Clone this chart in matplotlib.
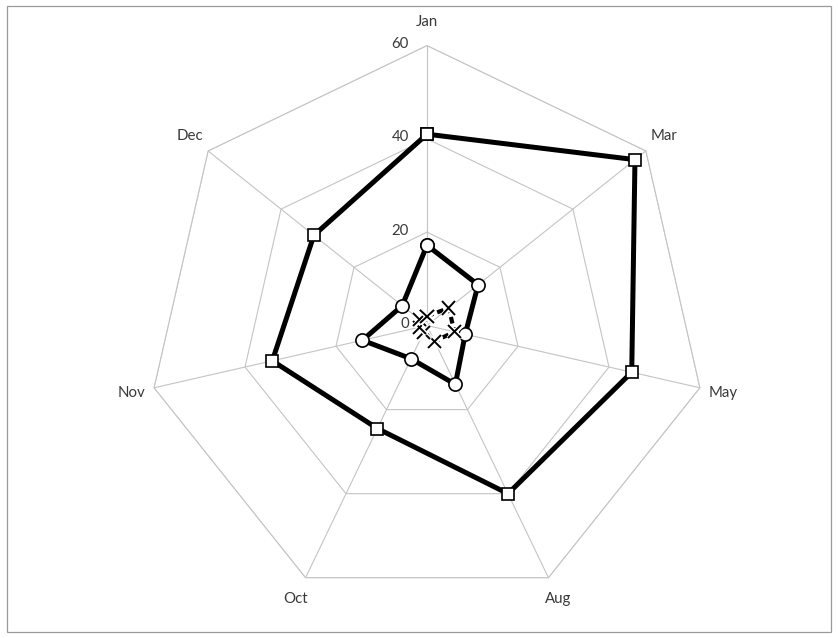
import numpy as np
import matplotlib
matplotlib.use('Agg')
import matplotlib.pyplot as plt
import matplotlib.patheffects as pe
from matplotlib.path import Path
from matplotlib.projections.polar import PolarAxes
from matplotlib.projections import register_projection
from matplotlib.spines import Spine
from matplotlib.transforms import Affine2D
from matplotlib.patches import RegularPolygon, Rectangle

# ---------------- data ----------------
categories = ['Jan', 'Mar', 'May', 'Aug', 'Oct', 'Nov', 'Dec']
series_squares = [41, 57, 45, 40, 24.5, 34, 31]
series_circles = [17.2, 14, 8.4, 14, 7.9, 14.2, 6.8]
series_crosses = [2.0, 6.0, 6.0, 3.8, 1.6, 1.7, 2.0]
r_ticks = [0, 20, 40, 60]
r_max = 60

N = len(categories)
theta = np.linspace(0, 2 * np.pi, N, endpoint=False)


class RadarTransform(PolarAxes.PolarTransform):
    def transform_path_non_affine(self, path):
        if path._interpolation_steps > 1:
            path = path.interpolated(N)
        return Path(self.transform(path.vertices), path.codes)


class RadarAxes(PolarAxes):
    name = 'radar7'
    PolarTransform = RadarTransform

    def __init__(self, *args, **kwargs):
        super().__init__(*args, **kwargs)
        self.set_theta_zero_location('N')
        self.set_theta_direction(-1)

    def plot(self, *args, **kwargs):
        lines = super().plot(*args, **kwargs)
        for line in lines:
            x, y = line.get_data()
            if x[0] != x[-1]:
                line.set_data(np.append(x, x[0]), np.append(y, y[0]))
        return lines

    def _gen_axes_patch(self):
        return RegularPolygon((0.5, 0.5), N, radius=0.5, edgecolor='none')

    def _gen_axes_spines(self):
        spine = Spine(axes=self, spine_type='circle',
                      path=Path.unit_regular_polygon(N))
        spine.set_transform(Affine2D().scale(0.5).translate(0.5, 0.5)
                            + self.transAxes)
        return {'polar': spine}


register_projection(RadarAxes)

plt.rcParams['font.family'] = ['Lato', 'DejaVu Sans']

W, H = 838, 638
fig = plt.figure(figsize=(W / 100, H / 100), dpi=100)
fig.patch.set_facecolor('white')

# chart-area border
fig.add_artist(Rectangle((7 / W, 6 / H), (831 - 7) / W, (632 - 6) / H,
                         transform=fig.transFigure, fill=False,
                         edgecolor='#9a9a9a', linewidth=0.9))

cx, cy, R = 427, 638 - 325.5, 280
ax = fig.add_axes([(cx - R) / W, (cy - R) / H, 2 * R / W, 2 * R / H],
                  projection='radar7')

grid_color = '#c4c4c4'
ax.set_ylim(0, r_max)
ax.set_yticks(r_ticks[1:])
ax.set_yticklabels([])
ax.set_xticks(theta)
ax.set_xticklabels([])
ax.grid(True, color=grid_color, linewidth=0.8)
ax.spines['polar'].set_edgecolor(grid_color)
ax.spines['polar'].set_linewidth(0.8)
ax.tick_params(length=0)

text_color = '#3a3a3a'
fs = 10.8
for v in r_ticks:
    ax.annotate(str(v), xy=(0, v), xytext=(-13, 1), textcoords='offset points',
                ha='right', va='center', color=text_color, fontsize=fs,
                annotation_clip=False)

for t, lab in zip(theta, categories):
    ax.text(t, 65, lab, ha='center', va='center', color=text_color,
            fontsize=fs, clip_on=False)

ax.plot(theta, series_squares, color='black', linewidth=3.6,
        marker='s', markersize=9, markerfacecolor='white',
        markeredgecolor='black', markeredgewidth=1.2, clip_on=False, zorder=4)
ax.plot(theta, series_circles, color='black', linewidth=3.6,
        marker='o', markersize=9.5, markerfacecolor='white',
        markeredgecolor='black', markeredgewidth=1.2, clip_on=False, zorder=4)
ax.plot(theta, series_crosses, color='black', linewidth=3.0,
        linestyle=(0, (1.6, 1.0)), clip_on=False, zorder=5)
ax.plot(theta, series_crosses, linestyle='none', marker='x', markersize=9.5,
        markeredgecolor='black', markeredgewidth=1.4, clip_on=False, zorder=6,
        path_effects=[pe.withStroke(linewidth=3.5, foreground='white')])

fig.savefig('out.png', dpi=100, facecolor='white')
